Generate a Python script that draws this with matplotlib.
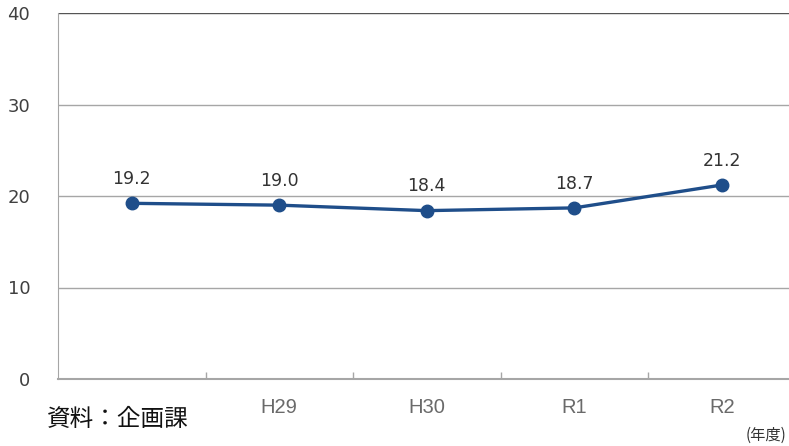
import matplotlib
matplotlib.use("Agg")
import matplotlib.pyplot as plt
import numpy as np

matplotlib.rcParams.update({
    'font.family': ['Noto Sans CJK JP', 'DejaVu Sans'],
})

CATEGORIES = ["", "H29", "H30", "R1", "R2"]
VALUES = [19.2, 19.0, 18.4, 18.7, 21.2]
Y_TICKS = [0, 10, 20, 30, 40]
LINE_COLOR = "#1f4e8a"
GRID_COLOR = "#a6a6a6"

fig = plt.figure(figsize=(7.89, 4.46), dpi=100)
ax = fig.add_axes([58 / 789, 67 / 446, 737.5 / 789, 366 / 446])

x = np.arange(len(VALUES))
ax.plot(x, VALUES, color=LINE_COLOR, linewidth=2.4, marker="o",
        markersize=9, markerfacecolor=LINE_COLOR, markeredgecolor=LINE_COLOR,
        zorder=3)
for xi, v in zip(x, VALUES):
    ax.annotate(f"{v:.1f}", (xi, v), xytext=(0, 11), textcoords="offset points",
                ha="center", va="bottom", fontsize=12.5, color="#333333",
                family="DejaVu Sans")

ax.set_xlim(-0.5, len(VALUES) - 0.5)
ax.set_ylim(0, 40)
ax.set_yticks(Y_TICKS)
ax.set_yticklabels([str(t) for t in Y_TICKS], family="DejaVu Sans",
                   fontsize=13, color="#404040")
for t in Y_TICKS[1:]:
    ax.axhline(t, color="#555555" if t == 40 else GRID_COLOR,
               linewidth=1.0, zorder=1)

ax.set_xticks(x)
ax.set_xticklabels(CATEGORIES, family="Liberation Sans", fontsize=14.5,
                   color="#6a6a6a")
ax.tick_params(axis="x", length=0, pad=14)
ax.tick_params(axis="y", length=0, pad=20)
ax.set_xticks(x[:-1] + 0.5, minor=True)
ax.tick_params(axis="x", which="minor", direction="in", length=5,
               color=GRID_COLOR, width=1)

for side in ["top", "right"]:
    ax.spines[side].set_visible(False)
ax.spines["left"].set_color(GRID_COLOR)
ax.spines["bottom"].set_color(GRID_COLOR)
ax.spines["bottom"].set_linewidth(1.5)

fig.text(47 / 789, 1 - 420 / 446, "資料：企画課", fontsize=17,
         color="#111111", va="center", ha="left")
fig.text(786 / 789, 1 - 435 / 446, "(年度)", fontsize=11,
         color="#333333", va="center", ha="right")

fig.savefig("out.png", dpi=100)
